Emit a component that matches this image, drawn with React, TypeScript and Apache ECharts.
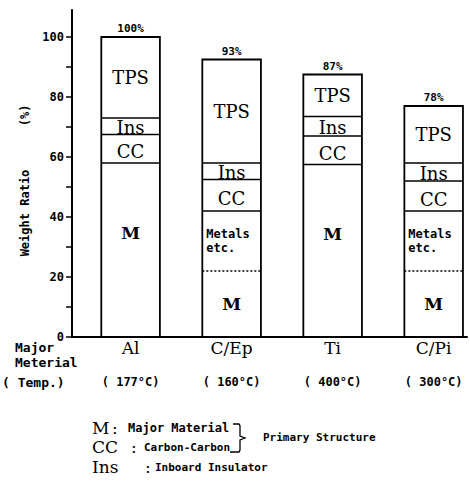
import React, { useEffect, useRef } from "react";
import * as echarts from "echarts";

// ---- data ----
const categories = ["Al", "C/Ep", "Ti", "C/Pi"];
const temps = ["( 177°C)", "( 160°C)", "( 400°C)", "( 300°C)"];
const totalLabels = ["100%", "93%", "87%", "78%"];
const majorMaterial = [58, 22, 57.5, 22];
const metalsEtc = [0, 20, 0, 20];
const carbonCarbon = [9.5, 10.5, 9.5, 10];
const insulator = [5.5, 5.5, 6.5, 6];
const tps = [27, 34.5, 14, 19];
const segmentNames = ["M", "Metals\netc.", "CC", "Ins", "TPS"];
const yTickValues = [0, 10, 20, 30, 40, 50, 60, 70, 80, 90, 100];
const yLabelValues = [0, 20, 40, 60, 80, 100];
const xPositions = [0, 1, 2, 3];

const SERIF = "'DejaVu Serif', 'Liberation Serif', serif";
const BOLD = "'DejaVu Sans Mono', 'Liberation Mono', monospace";

function renderItem(params: any, api: any) {
  const i = params.dataIndex;
  const x = api.value(0);
  const cx = api.coord([x, 0])[0];
  const w = api.size([1, 0])[0] * 0.58;
  const left = cx - w / 2;
  const yOf = (v: number) => api.coord([x, v])[1];
  const segs = [majorMaterial[i], metalsEtc[i], carbonCarbon[i], insulator[i], tps[i]];
  const total = segs.reduce((a, b) => a + b, 0);
  const children: any[] = [];
  children.push({
    type: "rect",
    shape: { x: left, y: yOf(total), width: w, height: yOf(0) - yOf(total) },
    style: { fill: "#fff", stroke: "#000", lineWidth: 1.8 },
  });
  let cum = 0;
  segs.forEach((v, k) => {
    if (!v) return;
    const y0 = yOf(cum);
    const y1 = yOf(cum + v);
    if (cum > 0) {
      const dotted = k === 1;
      children.push({
        type: "line",
        shape: { x1: left, y1: y0, x2: left + w, y2: y0 },
        style: { stroke: "#000", lineWidth: dotted ? 1.4 : 1.6, lineDash: dotted ? [2, 2] : null },
      });
    }
    const name = segmentNames[k];
    if (k === 1) {
      children.push({
        type: "text",
        x: left + 4,
        y: (y0 + y1) / 2,
        style: {
          text: name,
          fill: "#000",
          fontFamily: BOLD,
          fontWeight: "bold",
          fontSize: 12,
          lineHeight: 14,
          align: "left",
          verticalAlign: "middle",
        },
      });
    } else {
      let ty = (y0 + y1) / 2;
      if (k === 0 && v > 40) ty = yOf(cum + v * 0.6);
      if (k === 2) ty += 3;
      if (k === 3) ty += 1;
      children.push({
        type: "text",
        x: cx,
        y: ty,
        style: {
          text: name,
          fill: "#000",
          fontFamily: SERIF,
          fontSize: k === 0 ? 17 : 18,
          fontWeight: k === 0 ? "bold" : "normal",
          align: "center",
          verticalAlign: "middle",
        },
      });
    }
    cum += v;
  });
  children.push({
    type: "text",
    x: cx,
    y: yOf(total) - 3,
    style: {
      text: totalLabels[i],
      fill: "#000",
      fontFamily: BOLD,
      fontWeight: "bold",
      fontSize: 11,
      align: "center",
      verticalAlign: "bottom",
    },
  });
  return { type: "group", children };
}

export default function App() {
  const ref = useRef<HTMLDivElement>(null);
  useEffect(() => {
    const chart = echarts.init(ref.current!, null, { renderer: "svg" });
    const boldText = (text: string, x: number, y: number, size = 12) => ({
      type: "text",
      x,
      y,
      style: { text, fill: "#000", fontFamily: BOLD, fontWeight: "bold", fontSize: size, align: "left", verticalAlign: "middle" },
    });
    const serifText = (text: string, x: number, y: number) => ({
      type: "text",
      x,
      y,
      style: { text, fill: "#000", fontFamily: SERIF, fontSize: 17, align: "left", verticalAlign: "middle" },
    });
    const option: any = {
      animation: false,
      backgroundColor: "#fff",
      grid: { left: 72, right: 3, top: 10, bottom: 152 },
      xAxis: [
        {
          type: "value",
          min: -0.58,
          max: 3.33,
          axisLine: { show: true, onZero: false, lineStyle: { color: "#000", width: 2 } },
          axisTick: { show: false },
          splitLine: { show: false },
          axisLabel: {
            customValues: xPositions,
            formatter: (v: number) => categories[Math.round(v)],
            color: "#000",
            fontFamily: SERIF,
            fontSize: 17,
            margin: 2,
          },
        },
        {
          type: "value",
          position: "bottom",
          offset: 35,
          min: -0.58,
          max: 3.33,
          axisLine: { show: false },
          axisTick: { show: false },
          splitLine: { show: false },
          axisLabel: {
            customValues: xPositions,
            formatter: (v: number) => temps[Math.round(v)],
            color: "#000",
            fontFamily: BOLD,
            fontWeight: "bold",
            fontSize: 12,
            margin: 4,
          },
        },
      ],
      yAxis: {
        type: "value",
        min: 0,
        max: 109,
        name: "Weight Ratio      (%)",
        nameLocation: "middle",
        nameGap: 38,
        nameTextStyle: { color: "#000", fontFamily: BOLD, fontWeight: "bold", fontSize: 12, padding: [0, 14, 0, 0] },
        axisLine: { show: true, onZero: false, lineStyle: { color: "#000", width: 2 } },
        axisTick: { show: true, customValues: yTickValues, length: 6, lineStyle: { color: "#000", width: 1.5 } },
        axisLabel: {
          customValues: yLabelValues,
          color: "#000",
          fontFamily: BOLD,
          fontWeight: "bold",
          fontSize: 12,
          margin: 8,
        },
        splitLine: { show: false },
      },
      series: [
        {
          type: "custom",
          renderItem,
          clip: false,
          encode: { x: 0, y: 1 },
          data: xPositions.map((p, i) => [
            p,
            majorMaterial[i] + metalsEtc[i] + carbonCarbon[i] + insulator[i] + tps[i],
          ]),
        },
      ],
      graphic: [
        boldText("Major", 15, 347, 13),
        boldText("Meterial", 15, 362, 13),
        boldText("( Temp.)", 2, 382, 13),
        serifText("M", 92, 428),
        serifText(":", 112, 428),
        boldText("Major Material", 128, 428, 12),
        serifText("CC", 92, 447),
        serifText(":", 131, 447),
        boldText("Carbon-Carbon", 144, 447, 11),
        serifText("Ins", 92, 467),
        serifText(":", 145, 467),
        boldText("Inboard Insulator", 155, 467, 11),
        {
          type: "polyline",
          shape: {
            points: [
              [233, 424],
              [239, 424],
              [240, 426],
              [240, 436],
              [245, 438],
              [240, 440],
              [240, 450],
              [239, 452],
              [230, 452],
            ],
          },
          style: { stroke: "#000", lineWidth: 1.3, fill: null },
        },
        boldText("Primary Structure", 263, 437, 11),
      ],
    };
    chart.setOption(option);
    return () => chart.dispose();
  }, []);
  return (
    <div
      ref={ref}
      style={{ position: "fixed", left: 0, top: 0, width: 470, height: 489, background: "#fff" }}
    />
  );
}
